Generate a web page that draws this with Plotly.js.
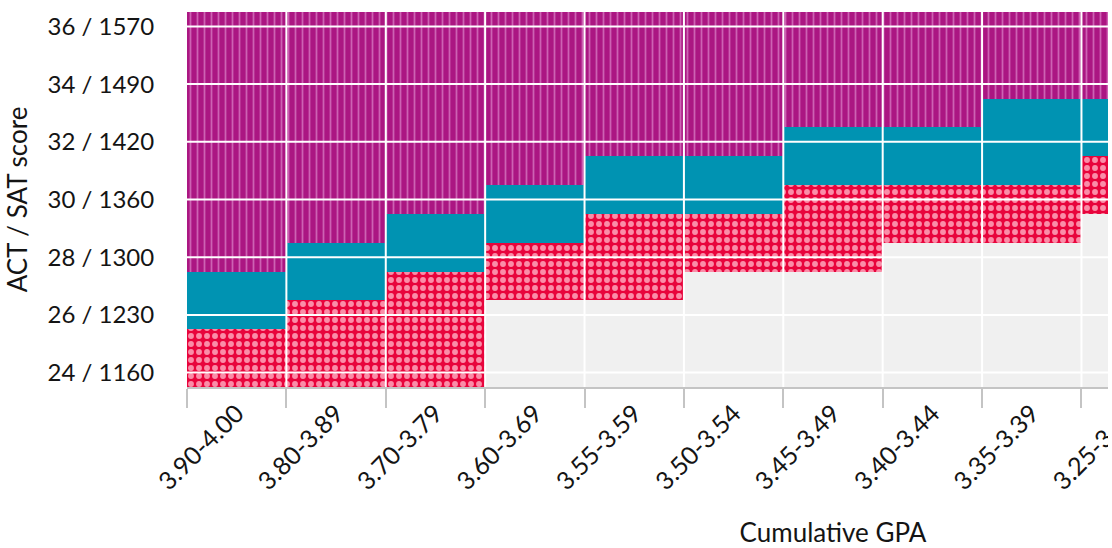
<!DOCTYPE html>
<html>
<head>
<meta charset="utf-8">
<script src="https://cdn.plot.ly/plotly-3.0.1.min.js"></script>
<style>
  html, body { margin: 0; padding: 0; overflow: hidden; background: #fff; }
  #wrap { width: 1108px; height: 548px; overflow: hidden; }
  #chart { width: 1530px; height: 548px; }
</style>
</head>
<body>
<div id="wrap"><div id="chart"></div></div>
<script>
// Categories (GPA ranges) visible in the reference
const gpaRanges = ['3.90-4.00', '3.80-3.89', '3.70-3.79', '3.60-3.69', '3.55-3.59',
                   '3.50-3.54', '3.45-3.49', '3.40-3.44', '3.35-3.39', '3.25-3.34'];
// Lowest ACT row of each coloured band, per GPA range
const redStart    = [24, 24, 24, 27, 27, 28, 28, 29, 29, 30];
const tealStart   = [26, 27, 28, 29, 30, 30, 31, 31, 31, 32];
const purpleStart = [28, 29, 30, 31, 32, 32, 33, 33, 34, 34];
const topAct = 36;
const bottomAct = 24;
// Y tick labels
const yTickVals = [24, 26, 28, 30, 32, 34, 36];
const yTickText = ['24 / 1160', '26 / 1230', '28 / 1300', '30 / 1360', '32 / 1420', '34 / 1490', '36 / 1570'];

const FONT = 'Lato, "Open Sans", sans-serif';
const INK = '#141414';
const PURPLE = '#AB1682', TEAL = '#0093B2', RED = '#E8043C', GRAY = '#F0F0F0';

const red = {
  type: 'bar', name: 'red', x: gpaRanges,
  base: redStart.map(v => v - 0.5),
  y: redStart.map((v, i) => tealStart[i] - v),
  marker: { color: RED, line: { width: 0 },
    pattern: { shape: '.', fillmode: 'replace', bgcolor: RED, fgcolor: 'rgba(255,175,195,0.8)', size: 8, solidity: 0.42 } },
  hoverinfo: 'skip'
};
const teal = {
  type: 'bar', name: 'teal', x: gpaRanges,
  base: tealStart.map(v => v - 0.5),
  y: tealStart.map((v, i) => purpleStart[i] - v),
  marker: { color: TEAL, line: { width: 0 } },
  hoverinfo: 'skip'
};
const purple = {
  type: 'bar', name: 'purple', x: gpaRanges,
  base: purpleStart.map(v => v - 0.5),
  y: purpleStart.map(v => topAct + 1 - v),
  marker: { color: PURPLE, line: { width: 0 },
    pattern: { shape: '|', fillmode: 'replace', bgcolor: PURPLE, fgcolor: 'rgba(220,130,200,0.7)', size: 7, solidity: 0.25 } },
  hoverinfo: 'skip'
};

const nSlots = 13;
const shapes = [];
yTickVals.forEach(v => shapes.push({ type: 'line', xref: 'paper', x0: 0, x1: 1, yref: 'y', y0: v, y1: v,
  line: { color: '#ffffff', width: 2 }, layer: 'above' }));
for (let i = 1; i < nSlots; i++) {
  shapes.push({ type: 'line', xref: 'x', x0: i - 0.5, x1: i - 0.5, yref: 'paper', y0: 0, y1: 1,
    line: { color: '#ffffff', width: 2 }, layer: 'above' });
}

const layout = {
  width: 1530, height: 548,
  margin: { l: 187, r: 51, t: 12, b: 161 },
  paper_bgcolor: '#ffffff', plot_bgcolor: GRAY,
  barmode: 'overlay', bargap: 0, showlegend: false,
  font: { family: FONT, color: INK },
  xaxis: {
    type: 'category', range: [-0.5, nSlots - 0.5], fixedrange: true,
    tickson: 'boundaries', ticks: 'outside', ticklen: 19, tickwidth: 2, tickcolor: '#c4c4c4',
    showline: true, linecolor: '#c4c4c4', linewidth: 2, showgrid: false,
    tickangle: -45, tickfont: { family: FONT, size: 25, color: INK },
    title: { text: 'Cumulative GPA', font: { family: FONT, size: 26, color: INK }, standoff: 29 }
  },
  yaxis: {
    range: [bottomAct - 0.5, topAct + 0.5], fixedrange: true,
    tickvals: yTickVals, ticktext: yTickText,
    ticks: 'outside', ticklen: 27, tickcolor: 'rgba(0,0,0,0)',
    showline: false, showgrid: false, zeroline: false,
    tickfont: { family: FONT, size: 24, color: INK },
    title: { text: 'ACT / SAT score', font: { family: FONT, size: 26, color: INK }, standoff: 12 }
  },
  shapes: shapes
};

Plotly.newPlot('chart', [red, teal, purple], layout, { displayModeBar: false, staticPlot: true });
</script>
</body>
</html>
